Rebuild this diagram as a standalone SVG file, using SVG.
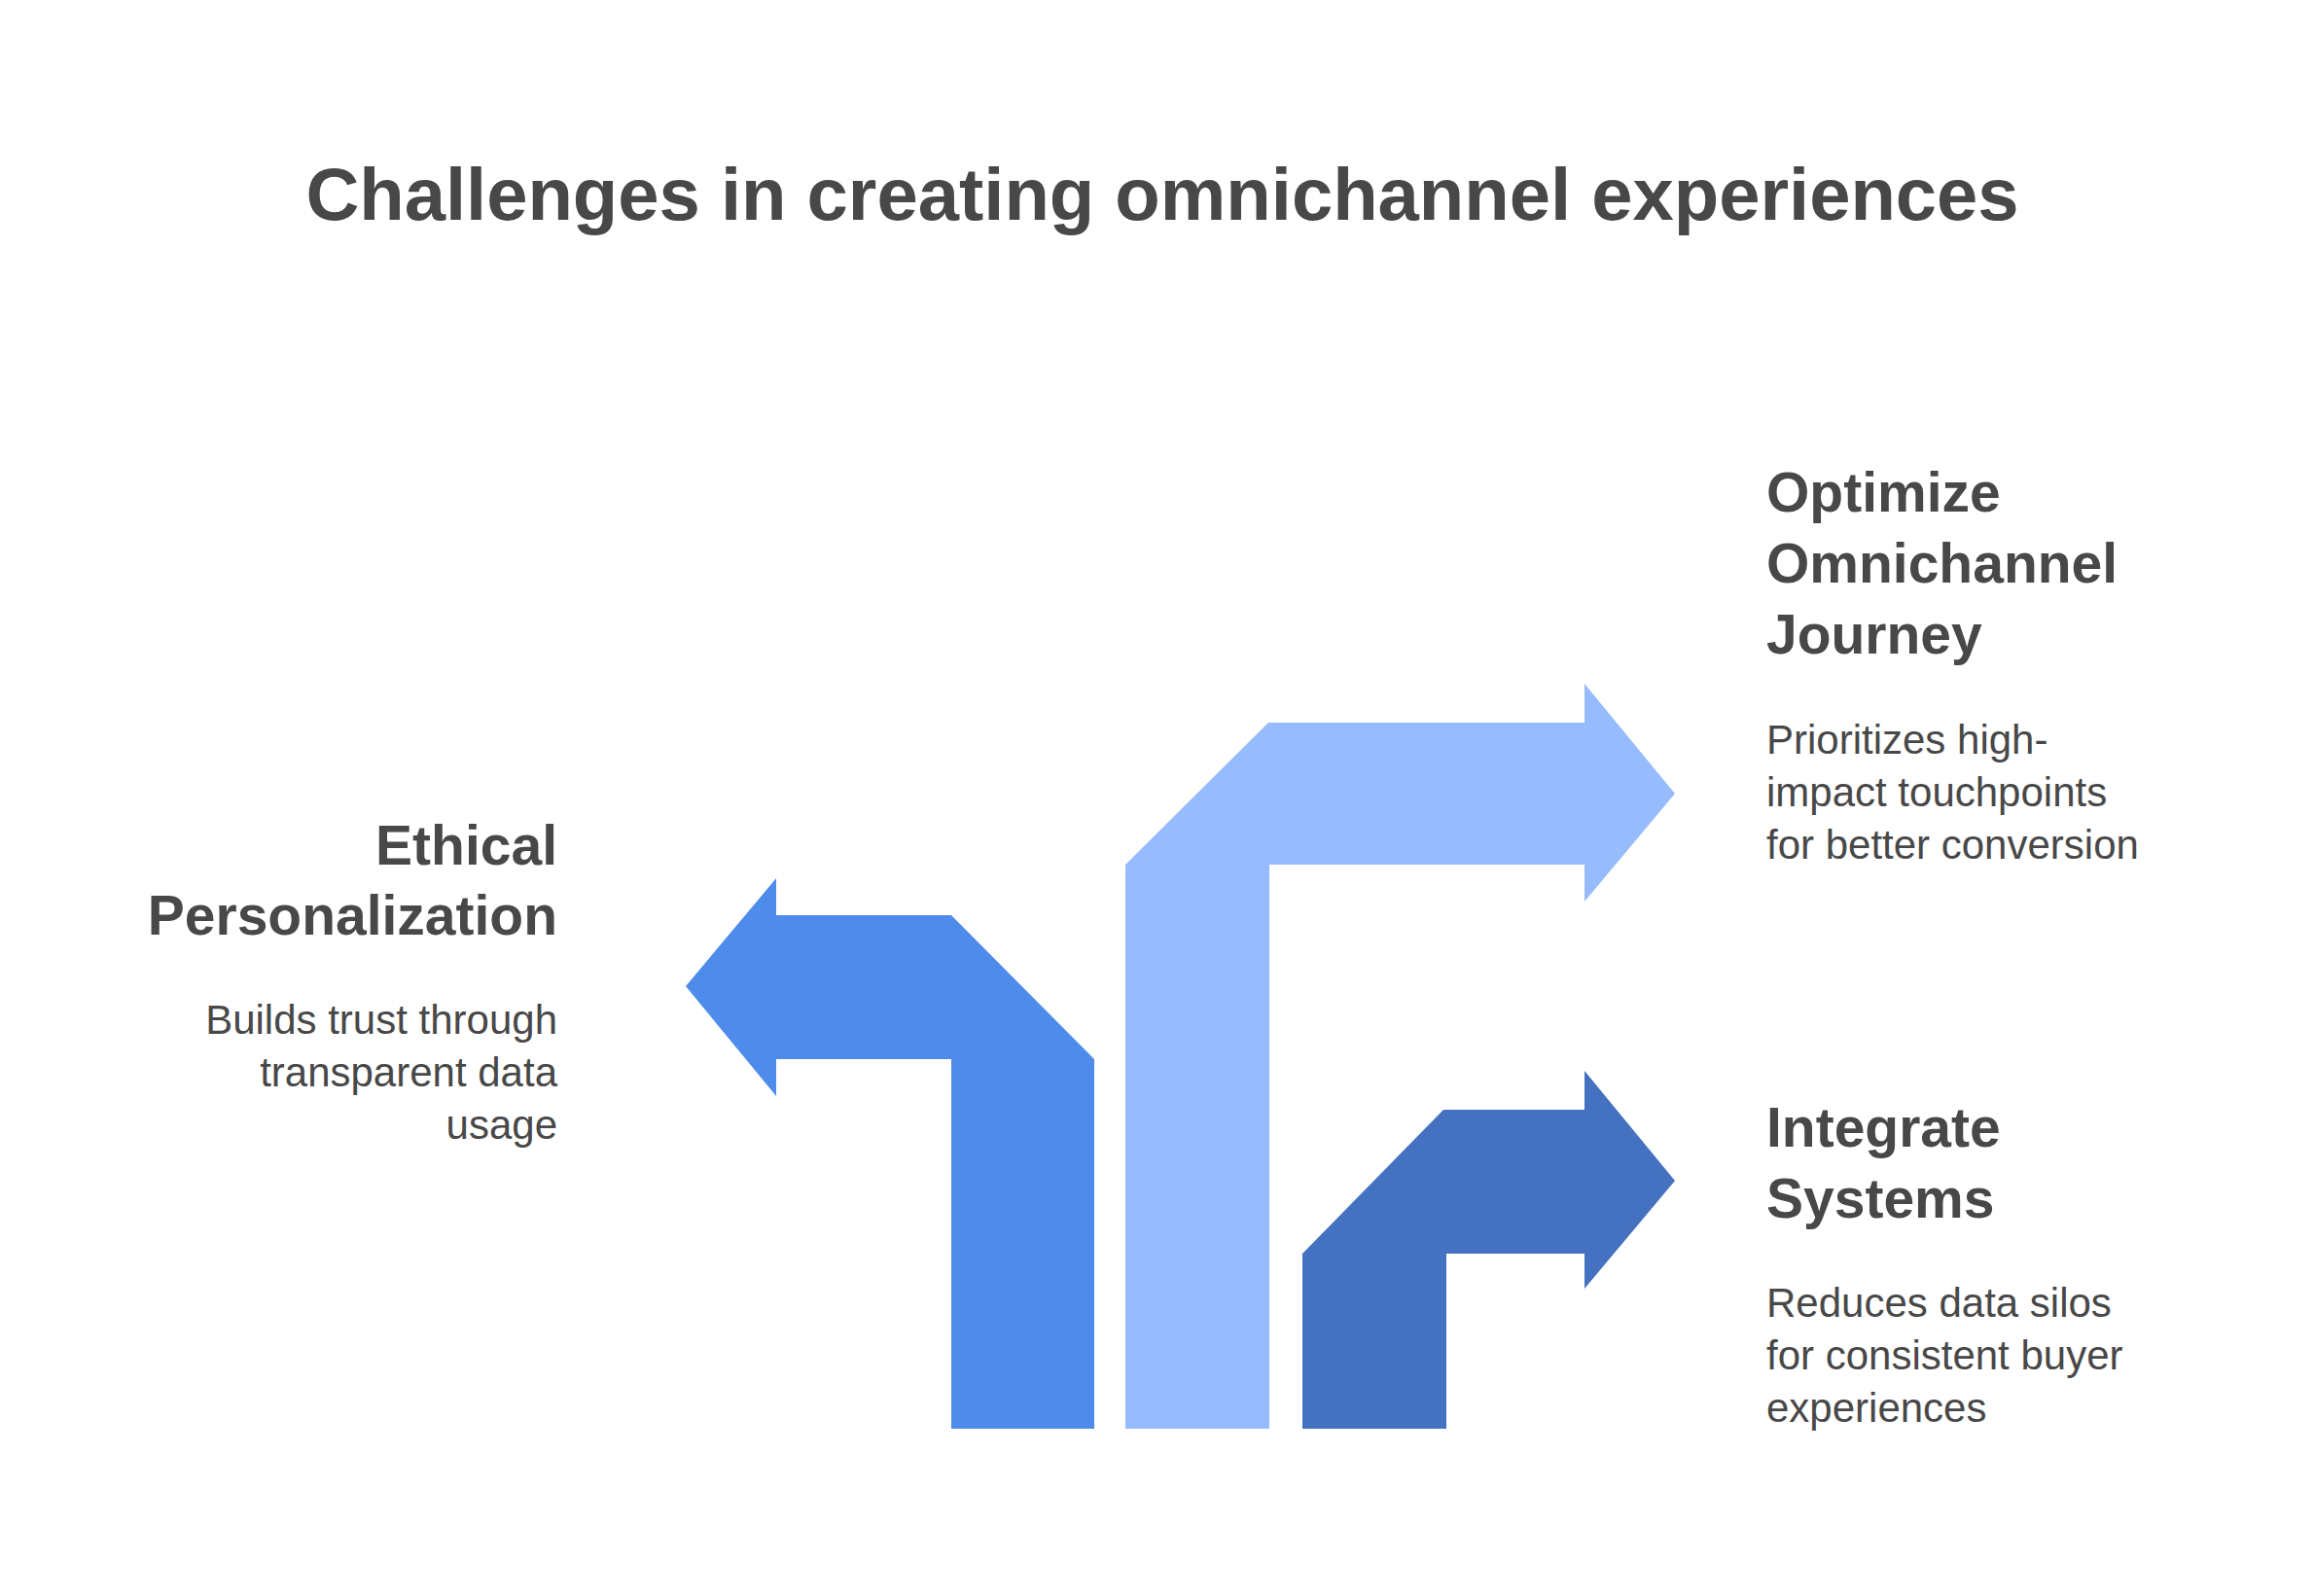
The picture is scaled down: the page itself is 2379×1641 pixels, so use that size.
<svg xmlns="http://www.w3.org/2000/svg" width="2379" height="1641" viewBox="0 0 2379 1641">
<style>
text{font-family:"Liberation Sans",Arial,sans-serif;fill:#484848}
.t{font-size:76px;font-weight:bold}
.h{font-size:57px;font-weight:bold}
.b{font-size:42px}
</style>
<rect width="2379" height="1641" fill="#fff"/>
<text class="t" x="1195" y="226" text-anchor="middle">Challenges in creating omnichannel experiences</text>
<g id="connectors">
<polygon id="arrow-left" fill="#4F8BEB" points="1125,1089 1125,1469 978,1469 978,1089 798,1089 798,1127 705,1014 798,903 798,941 978,941"/>
<polygon id="arrow-mid" fill="#97BCFD" points="1157,889 1304,743 1629,743 1629,703 1722,816 1629,927 1629,889 1305,889 1305,1469 1157,1469"/>
<polygon id="arrow-right" fill="#4472C0" points="1339,1289 1484,1141 1629,1141 1629,1101 1722,1214 1629,1325 1629,1289 1487,1289 1487,1469 1339,1469"/>
</g>
<g id="node-ethical" text-anchor="end">
<text class="h" x="573" y="889">Ethical</text>
<text class="h" x="573" y="961">Personalization</text>
<text class="b" x="573" y="1063">Builds trust through</text>
<text class="b" x="573" y="1117">transparent data</text>
<text class="b" x="573" y="1171">usage</text>
</g>
<g id="node-optimize">
<text class="h" x="1816" y="526">Optimize</text>
<text class="h" x="1816" y="599">Omnichannel</text>
<text class="h" x="1816" y="672">Journey</text>
<text class="b" x="1816" y="775">Prioritizes high-</text>
<text class="b" x="1816" y="829">impact touchpoints</text>
<text class="b" x="1816" y="883">for better conversion</text>
</g>
<g id="node-integrate">
<text class="h" x="1816" y="1179">Integrate</text>
<text class="h" x="1816" y="1252">Systems</text>
<text class="b" x="1816" y="1354">Reduces data silos</text>
<text class="b" x="1816" y="1408">for consistent buyer</text>
<text class="b" x="1816" y="1462">experiences</text>
</g>
</svg>
